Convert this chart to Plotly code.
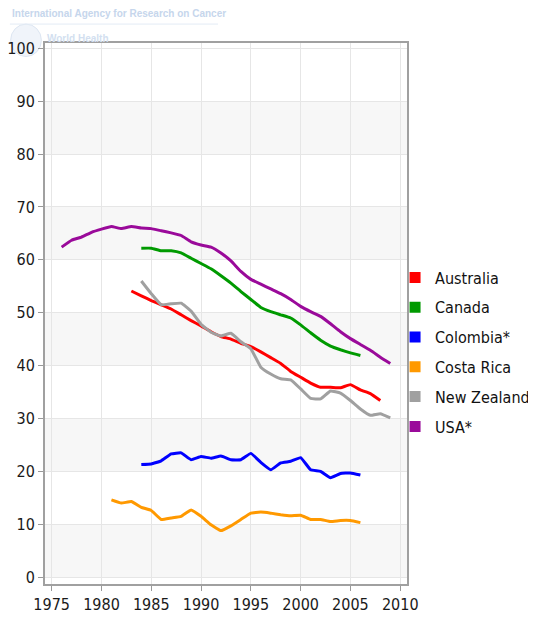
import plotly.graph_objects as go

usa_years = list(range(1976, 2010))
usa = [62.4, 63.7, 64.3, 65.2, 65.8, 66.3, 65.9, 66.3, 66.0, 65.9, 65.5, 65.1, 64.6, 63.4,
       62.8, 62.4, 61.3, 59.8, 57.8, 56.3, 55.4, 54.5, 53.6, 52.5, 51.2, 50.2, 49.3, 47.9,
       46.4, 45.1, 44.0, 42.9, 41.6, 40.4]

canada_years = list(range(1984, 2007))
canada = [62.2, 62.2, 61.7, 61.7, 61.3, 60.3, 59.3, 58.3, 57.0, 55.6, 54.0, 52.5, 51.0,
          50.2, 49.6, 49.0, 47.7, 46.2, 44.8, 43.7, 43.0, 42.4, 41.9]

australia_years = list(range(1983, 2009))
australia = [54.1, 53.2, 52.3, 51.5, 50.7, 49.6, 48.5, 47.5, 46.4, 45.5, 45.0, 44.2, 43.6,
             42.6, 41.5, 40.4, 38.9, 37.8, 36.7, 35.9, 35.9, 35.8, 36.4, 35.4, 34.7, 33.4]

nz_years = list(range(1984, 2010))
new_zealand = [56.0, 53.6, 51.5, 51.7, 51.8, 50.3, 47.8, 46.3, 45.6, 46.1, 44.5, 43.2, 39.7,
               38.4, 37.5, 37.3, 35.6, 33.8, 33.7, 35.2, 34.8, 33.4, 31.8, 30.6, 30.9, 30.1]

colombia_years = list(range(1984, 2007))
colombia = [21.3, 21.4, 22.0, 23.3, 23.5, 22.2, 22.8, 22.5, 22.9, 22.2, 22.2, 23.4, 21.7,
            20.3, 21.6, 21.9, 22.6, 20.3, 20.0, 18.8, 19.6, 19.7, 19.3]

costa_rica_years = list(range(1981, 2007))
costa_rica = [14.6, 14.0, 14.3, 13.2, 12.6, 10.9, 11.2, 11.5, 12.7, 11.5, 9.9, 8.8, 9.7,
              10.9, 12.1, 12.3, 12.1, 11.8, 11.6, 11.7, 10.9, 10.9, 10.5, 10.7, 10.7, 10.3]

x_ticks = [1975, 1980, 1985, 1990, 1995, 2000, 2005, 2010]
y_ticks = [0, 10, 20, 30, 40, 50, 60, 70, 80, 90, 100]

series = [
    ("Australia", australia_years, australia, "#ff0000"),
    ("Canada", canada_years, canada, "#009a00"),
    ("Colombia*", colombia_years, colombia, "#0000ff"),
    ("Costa Rica", costa_rica_years, costa_rica, "#ff9900"),
    ("New Zealand", nz_years, new_zealand, "#a0a0a0"),
    ("USA*", usa_years, usa, "#9a0a9a"),
]

FONT = "DejaVu Sans Condensed"
fig = go.Figure()

for name, xs, ys, col in series:
    fig.add_trace(go.Scatter(x=xs, y=ys, mode="lines", name=name, showlegend=False,
                             line=dict(color=col, width=3, shape="spline", smoothing=0.3),
                             hoverinfo="x+y+name"))

for i, (name, xs, ys, col) in enumerate(series):
    fig.add_trace(go.Scatter(x=[None], y=[None], mode="markers", name=name,
                             legendgroup=f"g{i}",
                             marker=dict(symbol="square", size=11, color=col)))

# alternating horizontal bands
shapes = []
for lo in range(0, 100, 20):
    shapes.append(dict(type="rect", xref="paper", yref="y", x0=0, x1=1, y0=lo, y1=lo + 10,
                       fillcolor="#f7f7f7", line=dict(width=0), layer="below"))
# faint logo circle and header rule
shapes.append(dict(type="circle", xref="paper", yref="paper", x0=-0.095, x1=-0.01,
                   y0=0.975, y1=1.035, line=dict(color="#dde6f2", width=1),
                   fillcolor="rgba(225,233,245,0.5)", layer="below"))
shapes.append(dict(type="line", xref="paper", yref="paper", x0=-0.097, x1=0.478,
                   y0=1.035, y1=1.035, line=dict(color="#e3ebf5", width=1)))

# the page body adds an 8px offset; the figure is sized so the plot lands where the reference has it
fig.update_layout(
    width=528, height=609,
    margin=dict(l=37, r=129, t=35, b=33, autoexpand=False),
    paper_bgcolor="white", plot_bgcolor="white",
    font=dict(family=FONT, size=15, color="#222222"),
    shapes=shapes,
    xaxis=dict(range=[1974.33, 2010.68], tickmode="array", tickvals=x_ticks,
               ticks="outside", ticklen=5, tickcolor="#999999", automargin=False,
               showgrid=True, gridcolor="#e6e6e6", gridwidth=1,
               showline=True, linecolor="#a0a0a0", linewidth=2, mirror=True,
               zeroline=False, tickfont=dict(size=16, family=FONT, color="#1a1a1a")),
    yaxis=dict(range=[-1.3, 101.0], tickmode="array", tickvals=y_ticks,
               ticks="outside", ticklen=5, tickcolor="#999999", automargin=False,
               showgrid=True, gridcolor="#e6e6e6", gridwidth=1,
               showline=True, linecolor="#a0a0a0", linewidth=2, mirror=True,
               zeroline=False, tickfont=dict(size=16, family=FONT, color="#1a1a1a")),
    legend=dict(x=0.967, xanchor="left", y=0.598, yanchor="top",
                font=dict(family=FONT, size=16, color="#111111"),
                bgcolor="rgba(0,0,0,0)", tracegroupgap=6, itemclick=False),
    annotations=[
        dict(text="<b>International Agency for Research on Cancer</b>", xref="paper", yref="paper",
             x=-0.097, y=1.054, xanchor="left", yanchor="middle", showarrow=False,
             font=dict(family="Liberation Sans", size=10, color="#c6d6ec")),
        dict(text="<b>World Health</b>", xref="paper", yref="paper",
             x=0.0, y=1.009, xanchor="left", yanchor="middle", showarrow=False,
             font=dict(family="Liberation Sans", size=10, color="#d3dff0")),
    ],
)

fig.write_html("out.html")
